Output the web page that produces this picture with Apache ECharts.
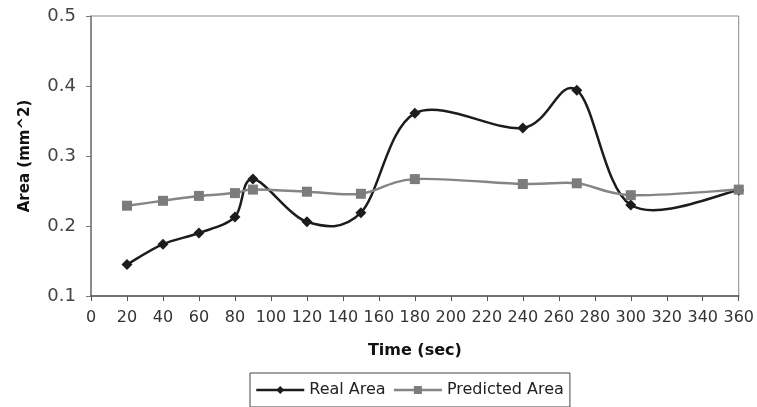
<!DOCTYPE html>
<html>
<head>
<meta charset="utf-8">
<script src="https://cdn.jsdelivr.net/npm/echarts@6/dist/echarts.min.js"></script>
<style>html,body{margin:0;padding:0;background:#fff}#c{width:757px;height:407px}</style>
</head>
<body>
<div id="c"></div>
<script>
const timeSec = [20, 40, 60, 80, 90, 120, 150, 180, 240, 270, 300, 360];
const realArea = [0.145, 0.174, 0.190, 0.213, 0.267, 0.206, 0.219, 0.361, 0.340, 0.394, 0.230, 0.251];
const predictedArea = [0.229, 0.236, 0.243, 0.247, 0.252, 0.249, 0.246, 0.267, 0.260, 0.261, 0.244, 0.252];
const seriesNames = ['Real Area', 'Predicted Area'];
const xTitle = 'Time (sec)';
const yTitle = 'Area (mm^2)';

const REAL_COLOR = '#1c1c1c';
const PRED_COLOR = '#858585';
const FONT = 'DejaVu Sans';

const pairs = (xs, ys) => xs.map((x, i) => [x, ys[i]]);

// Excel-style smoothed curve (Catmull-Rom) computed in pixel space via the axis scales
function curveRenderer(xs, ys, color) {
  return function (params, api) {
    if (params.dataIndex !== 0) return null;
    const pts = xs.map((x, i) => api.coord([x, ys[i]]));
    const n = pts.length;
    let d = 'M' + pts[0][0] + ' ' + pts[0][1];
    for (let i = 0; i < n - 1; i++) {
      const p0 = pts[Math.max(i - 1, 0)];
      const p1 = pts[i];
      const p2 = pts[i + 1];
      const p3 = pts[Math.min(i + 2, n - 1)];
      const c1x = p1[0] + (p2[0] - p0[0]) / 6;
      const c1y = p1[1] + (p2[1] - p0[1]) / 6;
      const c2x = p2[0] - (p3[0] - p1[0]) / 6;
      const c2y = p2[1] - (p3[1] - p1[1]) / 6;
      d += ' C' + c1x + ' ' + c1y + ' ' + c2x + ' ' + c2y + ' ' + p2[0] + ' ' + p2[1];
    }
    return {
      type: 'path',
      shape: {pathData: d},
      style: {stroke: color, lineWidth: 2.5, fill: null, lineJoin: 'round'},
      silent: true
    };
  };
}

const chart = echarts.init(document.getElementById('c'), null, {renderer: 'canvas'});
chart.setOption({
  animation: false,
  backgroundColor: '#ffffff',
  grid: {left: 91, right: 14, top: 16, bottom: 111, show: true, borderColor: '#8a8a8a', borderWidth: 1},
  legend: {
    left: 250, top: 373,
    padding: [9, 6, 9, 5],
    itemGap: 7, itemWidth: 48, itemHeight: 10,
    borderColor: '#444', borderWidth: 1,
    textStyle: {fontFamily: FONT, fontSize: 16, color: '#222'},
    data: [
      {name: seriesNames[0], lineStyle: {color: REAL_COLOR, width: 2.5, opacity: 1}},
      {name: seriesNames[1], lineStyle: {color: PRED_COLOR, width: 2.5, opacity: 1}}
    ]
  },
  xAxis: {
    type: 'value', min: 0, max: 360, interval: 20,
    name: xTitle, nameLocation: 'middle', nameGap: 47,
    nameTextStyle: {fontFamily: FONT, fontSize: 16, fontWeight: 'bold', color: '#111'},
    axisLine: {show: true, lineStyle: {color: '#555', width: 1.5}},
    axisTick: {show: true, inside: false, length: 5, lineStyle: {color: '#555'}},
    axisLabel: {fontFamily: FONT, fontSize: 16, color: '#333', margin: 14},
    splitLine: {show: false}
  },
  yAxis: {
    type: 'value', min: 0.1, max: 0.5, interval: 0.1,
    name: yTitle, nameLocation: 'middle', nameGap: 58, nameRotate: 90,
    nameTextStyle: {fontFamily: FONT, fontSize: 15, fontWeight: 'bold', color: '#111'},
    axisLine: {show: true, lineStyle: {color: '#777', width: 1.5}},
    axisTick: {show: true, inside: false, length: 5, lineStyle: {color: '#777'}},
    axisLabel: {fontFamily: FONT, fontSize: 18, color: '#444', margin: 15, formatter: v => v.toFixed(1)},
    splitLine: {show: false}
  },
  series: [
    {
      name: 'Real Area curve', type: 'custom', coordinateSystem: 'cartesian2d',
      renderItem: curveRenderer(timeSec, realArea, REAL_COLOR),
      data: pairs(timeSec, realArea), z: 2, silent: true
    },
    {
      name: 'Predicted Area curve', type: 'custom', coordinateSystem: 'cartesian2d',
      renderItem: curveRenderer(timeSec, predictedArea, PRED_COLOR),
      data: pairs(timeSec, predictedArea), z: 3, silent: true
    },
    {
      name: seriesNames[0], type: 'line',
      data: pairs(timeSec, realArea),
      symbol: 'diamond', symbolSize: 11, showAllSymbol: true,
      lineStyle: {color: REAL_COLOR, width: 2.5, opacity: 0},
      itemStyle: {color: REAL_COLOR}, z: 4
    },
    {
      name: seriesNames[1], type: 'line',
      data: pairs(timeSec, predictedArea),
      symbol: 'rect', symbolSize: 10, showAllSymbol: true,
      lineStyle: {color: PRED_COLOR, width: 2.5, opacity: 0},
      itemStyle: {color: '#7c7c7c'}, z: 5
    }
  ]
});
</script>
</body>
</html>
